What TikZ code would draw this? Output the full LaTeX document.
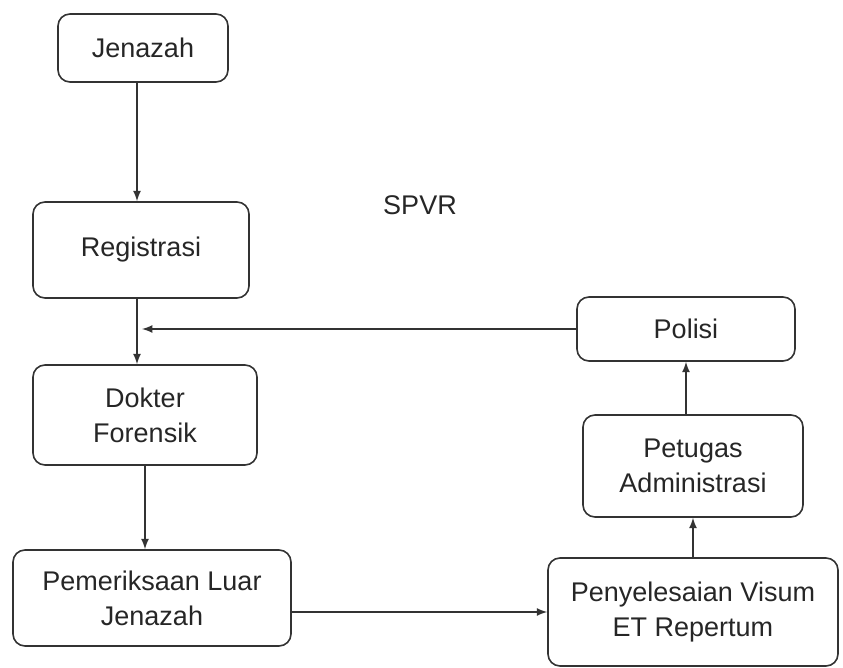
\documentclass[tikz,border=0pt]{standalone}
\usepackage{fontspec}
\setmainfont{Liberation Sans}
\usetikzlibrary{arrows}

\tikzstyle{stage} = [draw=black!80, rectangle, rounded corners=6pt, line width=0.8pt, align=center,
                     font=\fontsize{13.5}{17.5}\selectfont, text=black!85]
\tikzstyle{flow}  = [-latex, line width=0.8pt, draw=black!80]

\begin{document}
\begin{tikzpicture}[x=0.5pt,y=-0.5pt]
  \useasboundingbox (0,0) rectangle (843,668);
  \node at (143,48)  (jen) [stage, minimum width=85pt,  minimum height=34pt] {Jenazah};
  \node at (141,250) (reg) [stage, minimum width=108pt, minimum height=48pt] {Registrasi};
  \node at (145,415) (dok) [stage, minimum width=112pt, minimum height=50pt] {Dokter\\Forensik};
  \node at (152,598) (pem) [stage, minimum width=139pt, minimum height=48pt] {Pemeriksaan Luar\\Jenazah};
  \node at (693,612) (pen) [stage, minimum width=145pt, minimum height=54pt] {Penyelesaian Visum\\ET Repertum};
  \node at (693,466) (pet) [stage, minimum width=110pt, minimum height=51pt] {Petugas\\Administrasi};
  \node at (686,329) (pol) [stage, minimum width=109pt, minimum height=32pt] {Polisi};
  \node at (420,205) (spvr) [font=\fontsize{13.5}{17.5}\selectfont, text=black!85] {SPVR};
  \coordinate (down) at ([xshift=-2pt]reg.south);
  \coordinate (join) at ([xshift=2.5pt]down |- pol.west);
  \draw[flow] (down |- jen.south) -- (down |- reg.north);
  \draw[flow] (down) -- (down |- dok.north);
  \draw[flow] (pol.west) -- (join);
  \draw[flow] (dok.south) -- (dok.south |- pem.north);
  \draw[flow] (pen.west -| pem.east) -- (pen.west);
  \draw[flow] (pen.north) -- (pet.south);
  \draw[flow] (pol.south |- pet.north) -- (pol.south);
\end{tikzpicture}
\end{document}
